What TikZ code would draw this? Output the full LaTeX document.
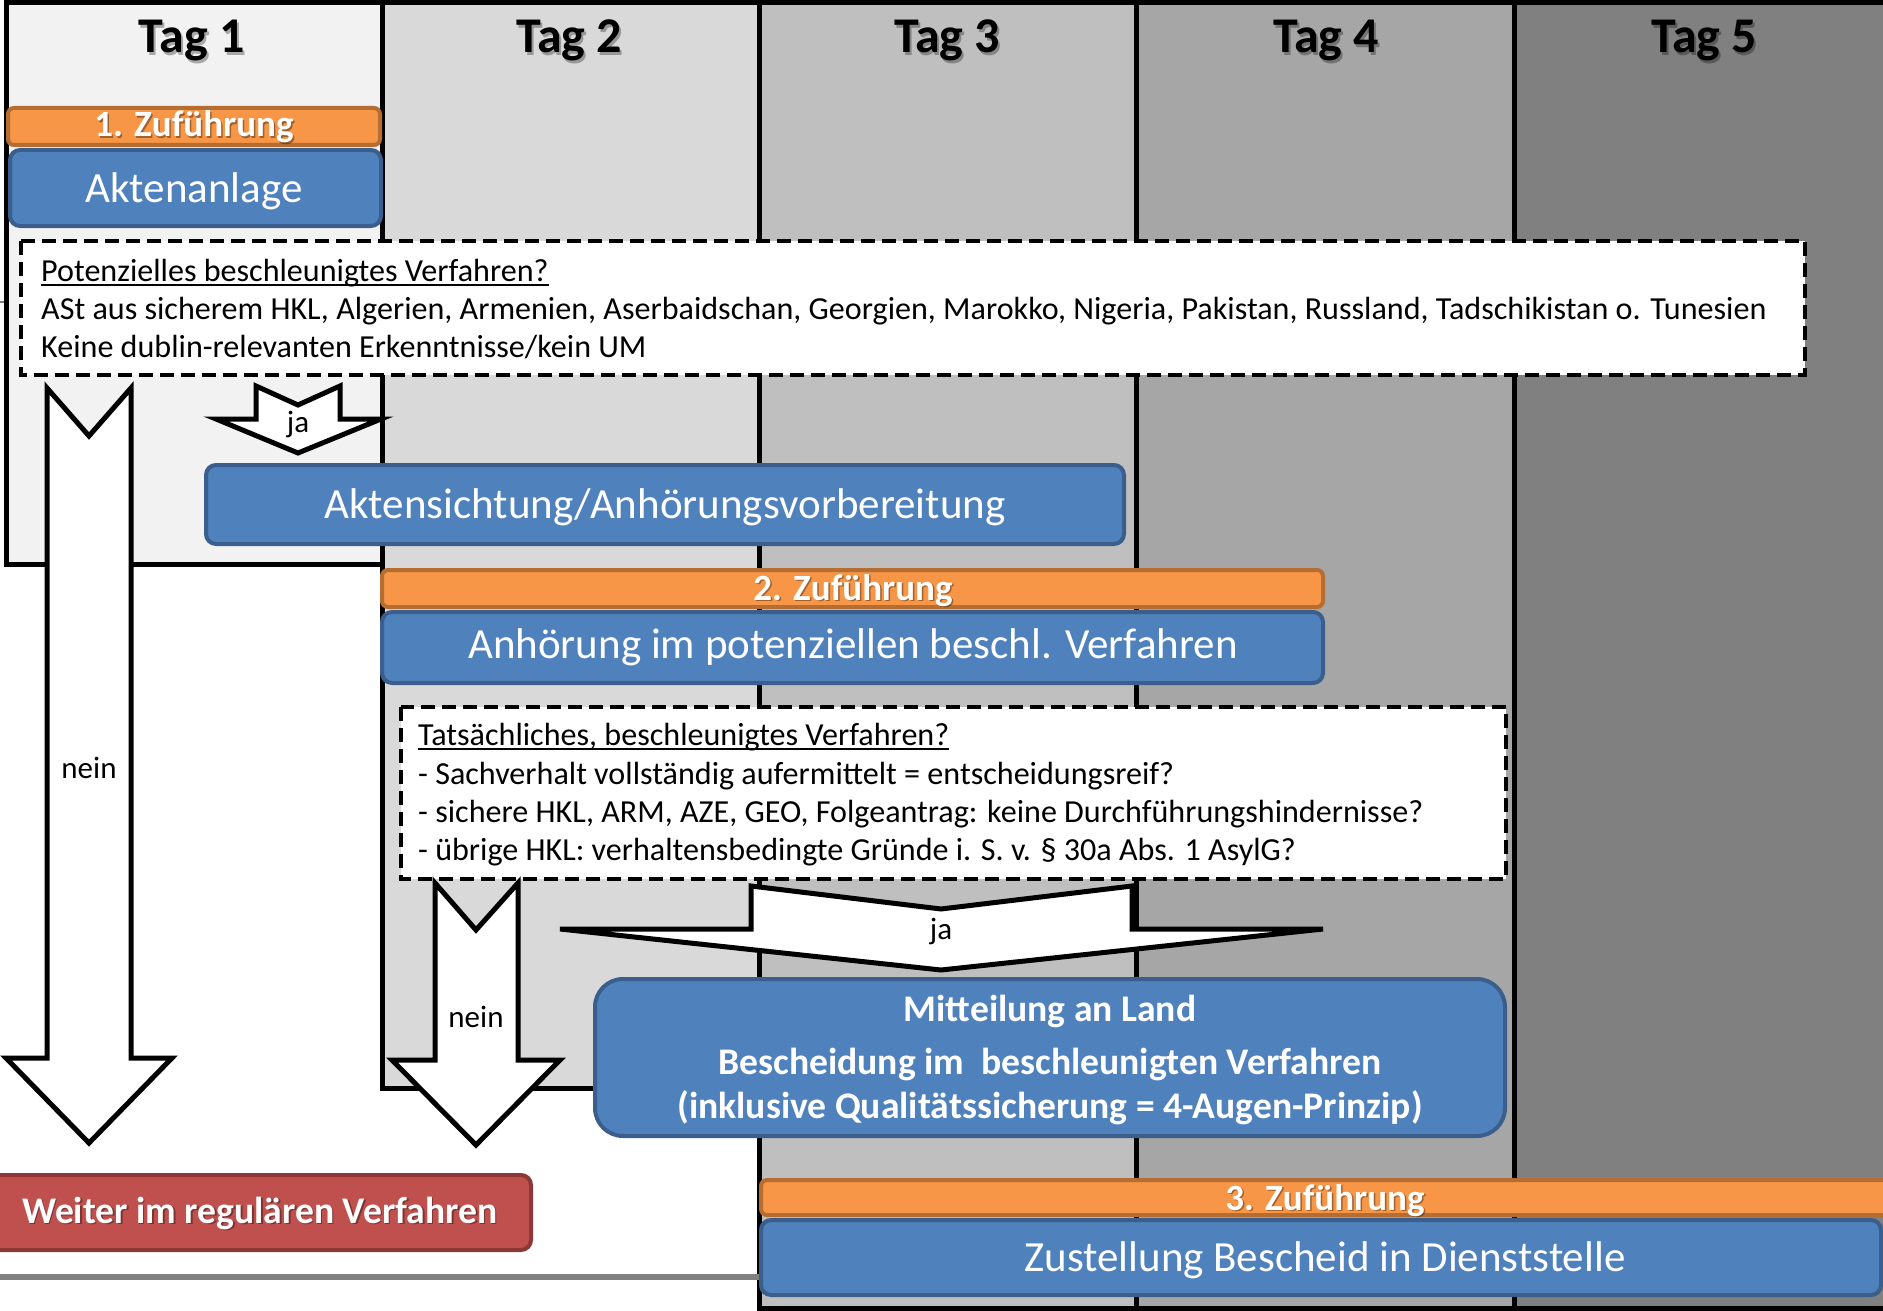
\documentclass[tikz,border=0pt]{standalone}
\usepackage{fontspec}
\setmainfont{Carlito}
\definecolor{cA}{HTML}{F2F2F2}
\definecolor{cB}{HTML}{D9D9D9}
\definecolor{cC}{HTML}{BFBFBF}
\definecolor{cD}{HTML}{A6A6A6}
\definecolor{cE}{HTML}{808080}
\definecolor{bluef}{HTML}{4F81BD}
\definecolor{bluedk}{HTML}{3B5F8C}
\definecolor{orangef}{HTML}{F79646}
\definecolor{orangedk}{HTML}{B66D31}
\definecolor{redf}{HTML}{C0504D}
\definecolor{reddk}{HTML}{8C3836}
\begin{document}
\begin{tikzpicture}[x=1pt,y=-1pt,
  colbox/.style={draw=black, line width=5pt, line join=miter},
  bluebox/.style={draw=bluedk, fill=bluef, line width=4pt, rounded corners=10pt},
  bigbluebox/.style={bluebox, rounded corners=28pt},
  orangebox/.style={draw=orangedk, fill=orangef, line width=4pt, rounded corners=6pt},
  redbox/.style={draw=reddk, fill=redf, line width=4pt, rounded corners=10pt},
  dashbox/.style={draw=black, fill=white, line width=4pt, dash pattern=on 14pt off 7pt},
  blockarrow/.style={draw=black, fill=white, line width=5pt, line join=miter},
  txt/.style={inner sep=0pt, anchor=base},
  hdr/.style={txt, font=\fontsize{50}{50}\selectfont\bfseries},
  hdrshadow/.style={hdr, text=black, opacity=0.3},
  zutxt/.style={txt, font=\fontsize{37}{37}\selectfont\bfseries, text=white},
  zushadow/.style={zutxt, text=black, opacity=0.35},
  bluetxt/.style={txt, font=\fontsize{43}{43}\selectfont, text=white},
  boldtxt/.style={txt, font=\fontsize{37.6}{37.6}\selectfont\bfseries, text=white},
  dtxt/.style={inner sep=0pt, anchor=base west, font=\fontsize{32.1}{32.1}\selectfont},
  arrtxt/.style={txt, font=\fontsize{31}{31}\selectfont},
  uline/.style={line width=1.6pt}
]
\useasboundingbox (0,0) rectangle (1883,1311);
\clip (0,0) rectangle (1883,1311);
\fill[white] (0,0) rectangle (1883,1311);

% day columns
\draw[colbox, fill=cE] (1514,2.5) rectangle (1900,1308);
\draw[colbox, fill=cD] (1136,2.5) rectangle (1514,1308);
\draw[colbox, fill=cC] (759,2.5) rectangle (1136,1308);
\draw[colbox, fill=cB] (382,2.5) rectangle (759,1088);
\draw[colbox, fill=cA] (6,2.5) rectangle (382,564);

% small grey marks
\draw[cE, line width=2pt] (0,302) -- (4,302);
\draw[cE, line width=6pt] (0,1277) -- (759,1277);

% headers
\foreach \x/\n in {192/1,569/2,947/3,1326/4,1704/5}{
  \node[hdrshadow] (tag\n s) at (\x+2,55.5) {Tag \n};
  \node[hdr] (tag\n) at (\x,53) {Tag \n};
}

% Tag 1 boxes
\draw[orangebox] (8,108) rectangle (380,145);
\node[zushadow] (zu1s) at (195.5,138.5) {1. Zuführung};
\node[zutxt] (zu1) at (194,137) {1. Zuführung};
\draw[bluebox] (10,150) rectangle (381,226);
\node[bluetxt] (akten) at (194,202) {Aktenanlage};

% first question box
\draw[dashbox] (21,241) rectangle (1805,375);
\node[dtxt] (q1) at (41,281) {Potenzielles beschleunigtes Verfahren?};
\draw[uline] ([yshift=-4pt]q1.base west) -- ([yshift=-4pt]q1.base east);
\node[dtxt] (q2) at (41,319) {ASt aus sicherem HKL, Algerien, Armenien, Aserbaidschan, Georgien, Marokko, Nigeria, Pakistan, Russland, Tadschikistan o. Tunesien};
\node[dtxt] (q3) at (41,357) {Keine dublin-relevanten Erkenntnisse/kein UM};

% arrows from first question
\draw[blockarrow] (256,386) -- (298,405) -- (340,386) -- (340,419) -- (381,419) -- (298,453) -- (216,419) -- (256,419) -- cycle;
\node[arrtxt] (ja1) at (298,432) {ja};
\draw[blockarrow] (47,388) -- (89,436) -- (131,388) -- (131,1058) -- (172,1058) -- (89,1143) -- (6,1058) -- (47,1058) -- cycle;
\node[arrtxt] (nein1) at (89,778) {nein};

% Aktensichtung
\draw[bluebox] (206,465) rectangle (1124,544);
\node[bluetxt] (sicht) at (665,518) {Aktensichtung/Anhörungsvorbereitung};

% second Zufuehrung and Anhoerung
\draw[orangebox] (382,570) rectangle (1323,607);
\node[zushadow] (zu2s) at (854.5,601.5) {2. Zuführung};
\node[zutxt] (zu2) at (853,600) {2. Zuführung};
\draw[bluebox] (382,612) rectangle (1323,683);
\node[bluetxt] (anh) at (853,658) {Anhörung im potenziellen beschl. Verfahren};

% second question box
\draw[dashbox] (401,707) rectangle (1506,879);
\node[dtxt] (r1) at (418,745) {Tatsächliches, beschleunigtes Verfahren?};
\draw[uline] ([yshift=-4pt]r1.base west) -- ([yshift=-4pt]r1.base east);
\node[dtxt] (r2) at (418,784) {- Sachverhalt vollständig aufermittelt = entscheidungsreif?};
\node[dtxt] (r3) at (418,822) {- sichere HKL, ARM, AZE, GEO, Folgeantrag: keine Durchführungshindernisse?};
\node[dtxt] (r4) at (418,860) {- übrige HKL: verhaltensbedingte Gründe i. S. v. § 30a Abs. 1 AsylG?};

% arrows from second question
\draw[blockarrow] (435,883) -- (476,930) -- (518,883) -- (518,1060) -- (560,1060) -- (476,1145) -- (392,1060) -- (435,1060) -- cycle;
\node[arrtxt] (nein2) at (476,1027) {nein};
\draw[blockarrow] (751,886) -- (941,909) -- (1132,886) -- (1132,929) -- (1323,929) -- (941,970) -- (560,929) -- (751,929) -- cycle;
\node[arrtxt] (ja2) at (941,939) {ja};

% decision box
\draw[bigbluebox] (595,979) rectangle (1505,1136);
\node[boldtxt] (mit1) at (1050,1021) {Mitteilung an Land};
\node[boldtxt] (mit2) at (1050,1074) {Bescheidung im\ \ beschleunigten Verfahren};
\node[boldtxt] (mit3) at (1050,1118) {(inklusive Qualitätssicherung = 4-Augen-Prinzip)};

% regular procedure
\draw[redbox] (-20,1175) rectangle (531,1250);
\node[boldtxt, text=black, opacity=0.35] (weiters) at (261.5,1224.5) {Weiter im regulären Verfahren};
\node[boldtxt] (weiter) at (260,1223) {Weiter im regulären Verfahren};

% third Zufuehrung and Zustellung
\draw[orangebox] (761,1180) rectangle (1900,1215);
\node[zushadow] (zu3s) at (1326.5,1211.5) {3. Zuführung};
\node[zutxt] (zu3) at (1325,1210) {3. Zuführung};
\draw[bluebox] (761,1220) rectangle (1881,1295);
\node[bluetxt] (zust) at (1325,1271) {Zustellung Bescheid in Dienststelle};
\end{tikzpicture}
\end{document}
